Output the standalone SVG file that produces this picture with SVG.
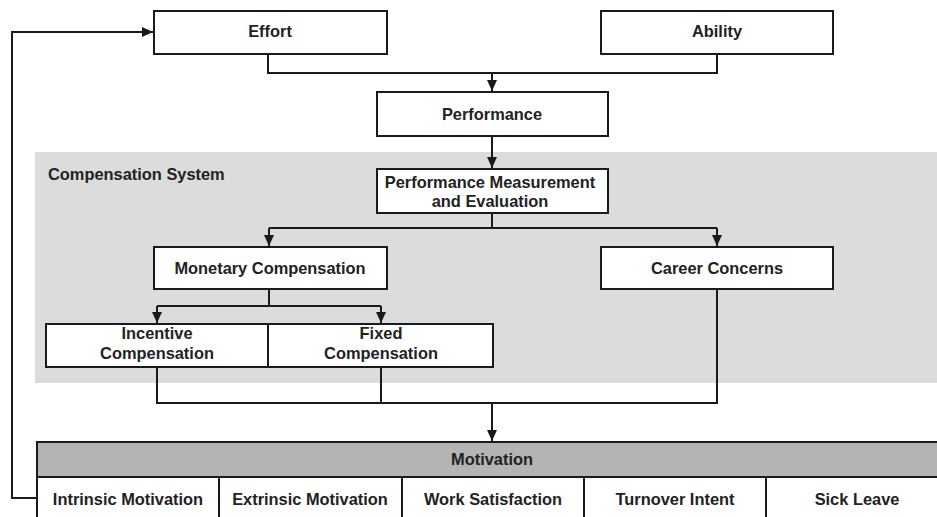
<svg xmlns="http://www.w3.org/2000/svg" width="937" height="517" viewBox="0 0 937 517">
<style>
.box{fill:#fff;stroke:#1a1a1a;stroke-width:2}
.t{font-family:"Liberation Sans",Arial,sans-serif;font-size:16.4px;font-weight:bold;fill:#222;text-anchor:middle}
.c{fill:none;stroke:#1a1a1a;stroke-width:2}
</style>
<defs>
<marker id="ah" markerUnits="userSpaceOnUse" markerWidth="12" markerHeight="12" refX="11" refY="6" orient="auto">
<path d="M0,1 L11,6 L0,11 Z" fill="#1a1a1a"/>
</marker>
</defs>
<rect width="937" height="517" fill="#fff"/>
<g id="compensation-system">
<rect x="35" y="152" width="902" height="231" fill="#dcdcdc"/>
<text class="t" x="48" y="180" style="text-anchor:start">Compensation System</text>
</g>
<g id="connectors">
<path class="c" d="M268,54 V73 H717 V54"/>
<path class="c" d="M492,73 V91" marker-end="url(#ah)"/>
<path class="c" d="M492,136 V168" marker-end="url(#ah)"/>
<path class="c" d="M492,213 V228"/>
<path class="c" d="M269,228 H717"/>
<path class="c" d="M269,228 V246" marker-end="url(#ah)"/>
<path class="c" d="M717,228 V246" marker-end="url(#ah)"/>
<path class="c" d="M269,289 V306"/>
<path class="c" d="M157,306 H381"/>
<path class="c" d="M157,306 V323" marker-end="url(#ah)"/>
<path class="c" d="M381,306 V323" marker-end="url(#ah)"/>
<path class="c" d="M157,367 V403 H717 V289"/>
<path class="c" d="M381,367 V403"/>
<path class="c" d="M492,403 V441" marker-end="url(#ah)"/>
<path class="c" d="M37,498 H12 V32 H153" marker-end="url(#ah)"/>
</g>
<g id="effort">
<rect class="box" x="154" y="11" width="233" height="43"/>
<text class="t" x="270" y="37">Effort</text>
</g>
<g id="ability">
<rect class="box" x="601" y="11" width="232" height="43"/>
<text class="t" x="717" y="37">Ability</text>
</g>
<g id="performance">
<rect class="box" x="377" y="92" width="231" height="44"/>
<text class="t" x="492" y="120">Performance</text>
</g>
<g id="performance-measurement">
<rect class="box" x="377" y="169" width="231" height="44"/>
<text class="t" x="490" y="188">Performance Measurement</text>
<text class="t" x="490" y="207">and Evaluation</text>
</g>
<g id="monetary-compensation">
<rect class="box" x="154" y="247" width="233" height="42"/>
<text class="t" x="270" y="274">Monetary Compensation</text>
</g>
<g id="career-concerns">
<rect class="box" x="601" y="247" width="232" height="42"/>
<text class="t" x="717" y="274">Career Concerns</text>
</g>
<g id="incentive-compensation">
<rect class="box" x="46" y="324" width="222" height="43"/>
<text class="t" x="157" y="339">Incentive</text>
<text class="t" x="157" y="359">Compensation</text>
</g>
<g id="fixed-compensation">
<rect class="box" x="268" y="324" width="225" height="43"/>
<text class="t" x="381" y="339">Fixed</text>
<text class="t" x="381" y="359">Compensation</text>
</g>
<g id="motivation">
<rect x="37" y="442" width="910" height="35" fill="#b4b4b4" stroke="#1a1a1a" stroke-width="2"/>
<text class="t" x="492" y="465">Motivation</text>
<rect x="37" y="477" width="910" height="50" fill="#fff" stroke="#1a1a1a" stroke-width="2"/>
<path class="c" d="M219,477 V517 M402,477 V517 M584,477 V517 M766,477 V517"/>
<text class="t" x="128" y="505">Intrinsic Motivation</text>
<text class="t" x="310" y="505">Extrinsic Motivation</text>
<text class="t" x="493" y="505">Work Satisfaction</text>
<text class="t" x="675" y="505">Turnover Intent</text>
<text class="t" x="857" y="505">Sick Leave</text>
</g>
</svg>
